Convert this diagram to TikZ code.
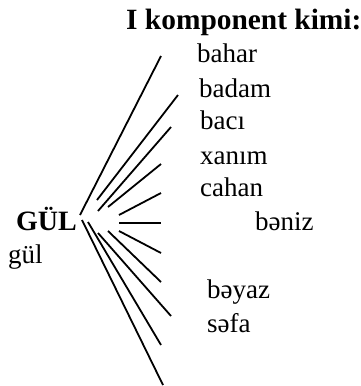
\documentclass[tikz,border=0pt]{standalone}
\usepackage{fontspec}
\setmainfont{Liberation Serif}
\begin{document}
\begin{tikzpicture}[x=1pt,y=-1pt,
  word/.style={anchor=base west,inner sep=0pt,font=\fontsize{27}{30}\selectfont},
  head/.style={anchor=base west,inner sep=0pt,font=\fontsize{28}{32}\selectfont\bfseries},
  ray/.style={line width=1.8pt}]
\useasboundingbox (0,0) rectangle (361,386);

% labels
\node[head,font=\fontsize{29.4}{33}\selectfont\bfseries] (title) at (126,29) {I komponent kimi:};
\node[head] (gul) at (16,230) {GÜL};
\node[word] (gul2) at (8,263) {gül};
\node[word] (w1) at (197,62) {bahar};
\node[word] (w2) at (199,97) {badam};
\node[word] (w3) at (200,129) {bacı};
\node[word] (w4) at (200,164) {xanım};
\node[word] (w5) at (200,196) {cahan};
\node[word] (w6) at (255,230) {bəniz};
\node[word] (w7) at (207,298) {bəyaz};
\node[word] (w8) at (207,332) {səfa};

% ray end points
\coordinate (s1) at (80,215);  \coordinate (e1) at (161,56);
\coordinate (s2) at (97,200);  \coordinate (e2) at (178,95);
\coordinate (s3) at (98,211);  \coordinate (e3) at (171,127);
\coordinate (s4) at (108,207); \coordinate (e4) at (161,164);
\coordinate (s5) at (119,215); \coordinate (e5) at (161,193);
\coordinate (s6) at (119,223); \coordinate (e6) at (161,223);
\coordinate (s7) at (119,231); \coordinate (e7) at (161,253);
\coordinate (s8) at (108,231); \coordinate (e8) at (161,282);
\coordinate (s9) at (98,233);  \coordinate (e9) at (171,316);
\coordinate (s10) at (88,222); \coordinate (e10) at (161,345);
\coordinate (s11) at (82,220); \coordinate (e11) at (163,385);

% rays fanning out from the headword
\foreach \i in {1,...,11} {
  \draw[ray] (s\i) -- (e\i);
}
\end{tikzpicture}
\end{document}
